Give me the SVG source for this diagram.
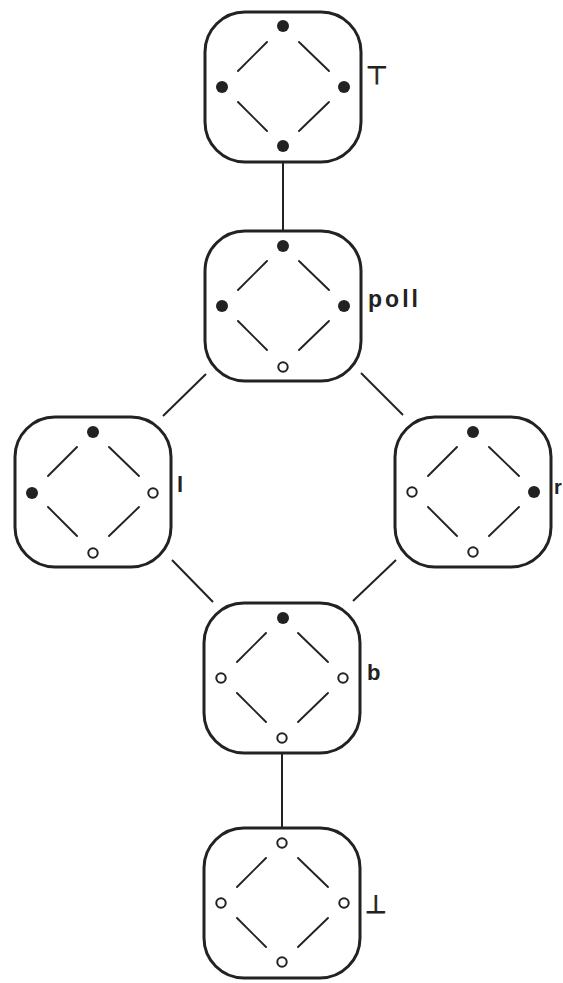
<svg xmlns="http://www.w3.org/2000/svg" xmlns:xlink="http://www.w3.org/1999/xlink" width="563" height="983" viewBox="0 0 563 983">
<style>
.box{fill:none;stroke:#222;stroke-width:3}
.seg{stroke:#222;stroke-width:1.9;stroke-linecap:round}
.full{fill:#222}
.empty{fill:#fff;stroke:#222;stroke-width:2}
.edge{stroke:#222;stroke-width:2;fill:none}
.lbl{font-family:"Liberation Sans",Arial,sans-serif;font-weight:bold;fill:#222}
.sym{font-family:"DejaVu Sans",sans-serif;fill:#222;stroke:#222;stroke-width:0.9}
</style>
<defs>
<g id="frame">
<rect class="box" x="-78" y="-75" width="156" height="150" rx="40" ry="40"/>
<line class="seg" x1="-45" y1="-16" x2="-16" y2="-45"/>
<line class="seg" x1="16" y1="-45" x2="46" y2="-16"/>
<line class="seg" x1="-45" y1="15" x2="-16" y2="44"/>
<line class="seg" x1="16" y1="44" x2="46" y2="15"/>
</g>
</defs>
<rect width="563" height="983" fill="#fff"/>
<g id="connectors">
<line class="edge" x1="283" y1="161" x2="283" y2="231"/>
<line class="edge" x1="206" y1="374" x2="163" y2="416"/>
<line class="edge" x1="361" y1="373" x2="403" y2="415"/>
<line class="edge" x1="172" y1="560" x2="213" y2="602"/>
<line class="edge" x1="396" y1="560" x2="353" y2="601"/>
<line class="edge" x1="282" y1="753" x2="282" y2="828"/>
</g>
<g id="node-top" transform="translate(283,87)">
<use xlink:href="#frame"/>
<circle class="full" cx="0" cy="-61" r="6"/>
<circle class="full" cx="-61" cy="0" r="6"/>
<circle class="full" cx="61" cy="0" r="6"/>
<circle class="full" cx="0" cy="59" r="6"/>
<text class="sym" x="83" y="-3" font-size="25">⊤</text>
</g>
<g id="node-poll" transform="translate(283,306)">
<use xlink:href="#frame"/>
<circle class="full" cx="0" cy="-60" r="6"/>
<circle class="full" cx="-61" cy="0" r="6"/>
<circle class="full" cx="61" cy="0" r="6"/>
<circle class="empty" cx="0" cy="61" r="4.7"/>
<text class="lbl" x="85" y="1" font-size="23" textLength="50" lengthAdjust="spacing">poll</text>
</g>
<g id="node-l" transform="translate(93,492)">
<use xlink:href="#frame"/>
<circle class="full" cx="0" cy="-60" r="6"/>
<circle class="full" cx="-61" cy="1" r="6"/>
<circle class="empty" cx="60" cy="1" r="4.7"/>
<circle class="empty" cx="0" cy="61" r="4.7"/>
<text class="lbl" x="84" y="0" font-size="22">l</text>
</g>
<g id="node-r" transform="translate(473,492)">
<use xlink:href="#frame"/>
<circle class="full" cx="0" cy="-60" r="6"/>
<circle class="empty" cx="-61" cy="0" r="4.7"/>
<circle class="full" cx="61" cy="0" r="6"/>
<circle class="empty" cx="0" cy="60" r="4.7"/>
<text class="lbl" x="81" y="2" font-size="20">r</text>
</g>
<g id="node-b" transform="translate(282,678)">
<use xlink:href="#frame"/>
<circle class="full" cx="1" cy="-60" r="6"/>
<circle class="empty" cx="-61" cy="0" r="4.7"/>
<circle class="empty" cx="61" cy="0" r="4.7"/>
<circle class="empty" cx="0" cy="60" r="4.7"/>
<text class="lbl" x="85" y="2" font-size="22">b</text>
</g>
<g id="node-bottom" transform="translate(282,903)">
<use xlink:href="#frame"/>
<circle class="empty" cx="0" cy="-60" r="4.7"/>
<circle class="empty" cx="-61" cy="0" r="4.7"/>
<circle class="empty" cx="62" cy="0" r="4.7"/>
<circle class="empty" cx="0" cy="59" r="4.7"/>
<text class="sym" x="83" y="10" font-size="25">⊥</text>
</g>
</svg>
